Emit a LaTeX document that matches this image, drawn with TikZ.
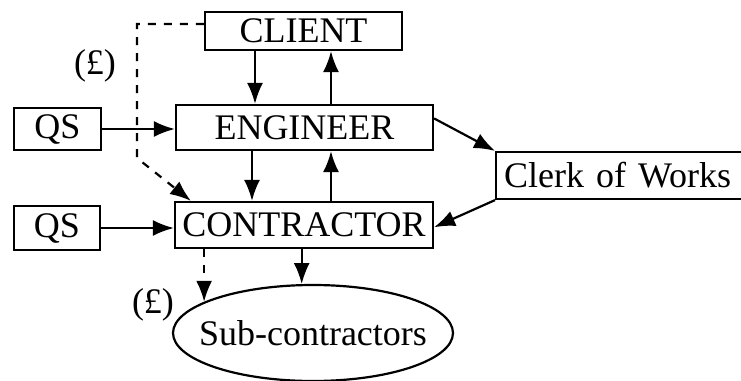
\documentclass[tikz,border=0pt]{standalone}
\usepackage{fontspec}
\setmainfont{Liberation Serif}
\usetikzlibrary{arrows.meta,shapes.geometric}
\begin{document}
\begin{tikzpicture}[x=0.5pt,y=-0.5pt,>={Latex[length=10.5pt,width=8pt]},line width=1.1pt,
  box/.style={draw,rectangle,inner sep=0pt},
  every node/.style={font=\fontsize{18}{21}\selectfont}]
\useasboundingbox (0,0) rectangle (741,381);

\node(Client)[box,minimum width=98.5pt,minimum height=19pt] at (303.5,31){CLIENT};
\node(Eng)[box,minimum width=128.5pt,minimum height=22.5pt] at (304.5,127.5){ENGINEER};
\node(Cont)[box,minimum width=129pt,minimum height=23pt] at (304,225){CONTRACTOR};
\node(QSa)[box,minimum width=43.5pt,minimum height=21pt] at (57.5,129){QS};
\node(QSb)[box,minimum width=43pt,minimum height=22pt] at (57,228){QS};
\node(Clerk)[box,anchor=west,text width=120pt,inner xsep=4pt,minimum height=23.5pt,align=left] at (495,175.5){Clerk of Works};
\node(Sub)[draw,ellipse,minimum width=140pt,minimum height=48pt,inner xsep=-8pt,inner ysep=0pt] at (313,333){Sub-contractors};
\node(PayA) at (95,66){(£)};
\node(PayB) at (153,305){(£)};

\coordinate(xa) at (255,0);
\coordinate(xb) at (331,0);
\coordinate(xc) at (252,0);
\coordinate(bend) at (137,158);

\draw (Client.south -| xa) edge[->] (Eng.north -| xa);
\draw (Eng.north -| xb) edge[->] (Client.south -| xb);
\draw (Eng.south -| xc) edge[->] (Cont.north -| xc);
\draw (Cont.north -| xb) edge[->] (Eng.south -| xb);
\draw (QSa.east) edge[->] (QSa.east -| Eng.west);
\draw (QSb.east) edge[->] (QSb.east -| Cont.west);
\draw (Eng.4) edge[->] (Clerk.north west);
\draw (Clerk.south west) edge[->] (Cont.-1);
\draw (Cont.south -| Sub.103) edge[->] (Sub.103);

% payment routes
\draw[dash pattern=on 4pt off 4pt,->] (Client.176) -| (bend) -- ([xshift=8.5pt]Cont.north west);
\draw[dash pattern=on 4pt off 4pt,->] (Cont.south -| Sub.164) -- (Sub.164);
\end{tikzpicture}
\end{document}
